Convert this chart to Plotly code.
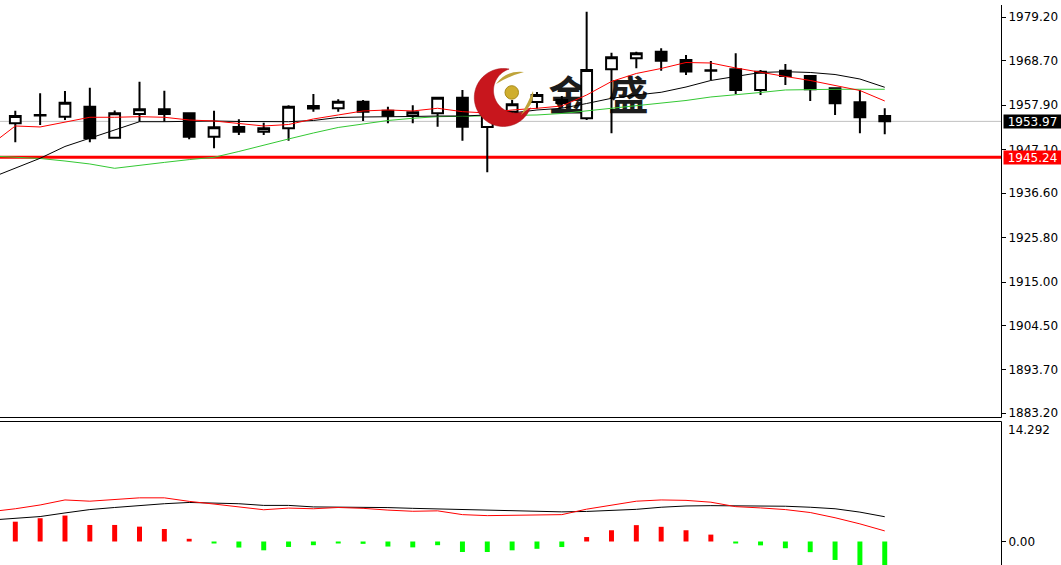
import numpy as np
import plotly.graph_objects as go

W, H = 1061, 565

# ---------------- data ----------------
idx = list(range(36))
opens = [1953.50, 1955.39, 1955.10, 1957.53, 1950.01, 1955.76, 1956.90, 1955.93, 1950.26, 1952.61,
         1951.47, 1952.29, 1957.70, 1957.14, 1958.74, 1956.56, 1955.35, 1955.93, 1959.71, 1952.61,
         1956.32, 1958.67, 1958.42, 1954.72, 1966.59, 1969.26, 1970.86, 1968.85, 1966.35, 1966.59,
         1961.58, 1966.25, 1964.97, 1961.99, 1958.59, 1955.27]
highs = [1956.56, 1960.78, 1961.33, 1962.13, 1956.61, 1963.59, 1961.41, 1956.07, 1956.56, 1954.47,
         1953.65, 1957.87, 1960.61, 1959.32, 1959.15, 1957.53, 1957.87, 1959.71, 1961.58, 1959.15,
         1959.15, 1961.09, 1960.12, 1980.56, 1970.62, 1970.86, 1971.69, 1970.06, 1968.61, 1970.47,
         1966.43, 1967.88, 1964.97, 1961.99, 1961.58, 1957.14]
lows = [1948.90, 1953.09, 1954.30, 1948.90, 1949.82, 1953.89, 1953.89, 1949.62, 1947.44, 1950.67,
        1950.67, 1949.29, 1956.32, 1956.32, 1954.06, 1953.50, 1953.50, 1952.68, 1949.29, 1941.62,
        1955.52, 1957.09, 1957.45, 1954.30, 1951.08, 1966.84, 1966.25, 1965.21, 1964.00, 1960.61,
        1960.36, 1962.79, 1958.91, 1955.52, 1951.08, 1950.84]
closes = [1955.27, 1955.52, 1958.50, 1949.87, 1955.93, 1956.90, 1955.76, 1950.26, 1952.53, 1951.47,
          1952.29, 1957.53, 1957.09, 1958.74, 1956.32, 1955.35, 1956.17, 1959.71, 1952.68, 1956.24,
          1958.11, 1960.36, 1959.15, 1966.43, 1969.50, 1970.47, 1968.68, 1966.06, 1966.23, 1961.58,
          1966.01, 1964.97, 1961.75, 1958.35, 1954.96, 1953.97]

# moving averages (start one bar before the first visible candle)
ma_idx = list(range(-1, 36))
ma_red = [1948.24, 1952.85, 1952.61, 1953.70, 1954.96, 1954.96, 1955.10, 1954.96, 1954.30, 1954.06,
          1953.46, 1952.85, 1953.21, 1954.55, 1955.52, 1956.49, 1956.73, 1956.49, 1957.14, 1956.32,
          1956.00, 1956.73, 1957.14, 1957.70, 1960.36, 1963.64, 1965.58, 1966.79, 1968.24, 1968.12,
          1966.91, 1965.82, 1964.85, 1963.88, 1962.67, 1961.45, 1958.91]
ma_black = [1940.24, 1942.67, 1945.02, 1947.88, 1949.87, 1951.88, 1953.89, 1953.89, 1954.06, 1954.06,
            1953.94, 1953.89, 1953.89, 1954.18, 1954.91, 1955.03, 1955.03, 1955.15, 1955.27, 1955.27,
            1955.52, 1956.00, 1956.73, 1957.14, 1958.30, 1959.56, 1960.36, 1961.02, 1962.30, 1963.88,
            1964.85, 1965.82, 1966.01, 1965.82, 1965.33, 1964.24, 1962.23]
ma_green = [1945.58, 1945.33, 1944.97, 1944.36, 1943.64, 1942.59, 1943.39, 1944.02, 1944.70, 1945.26,
            1946.67, 1948.24, 1949.70, 1951.15, 1952.49, 1953.33, 1954.18, 1954.72, 1955.10, 1955.20,
            1955.27, 1955.39, 1955.52, 1955.88, 1956.49, 1957.14, 1957.70, 1958.30, 1959.03, 1959.88,
            1960.36, 1960.97, 1961.58, 1961.70, 1961.75, 1961.75, 1961.75]

# MACD panel
macd_dif = [3.55, 3.9, 4.35, 4.95, 4.8, 5.0, 5.2, 5.2, 4.78, 4.46, 4.15, 3.78, 3.98, 3.9, 4.05, 3.95,
            3.74, 3.6, 3.65, 3.2, 3.08, 3.1, 3.12, 3.2, 3.85, 4.35, 4.8, 4.95, 4.9, 4.68, 4.15, 4.0,
            3.8, 3.45, 2.83, 2.1, 1.26]
macd_dea = [2.55, 2.77, 2.97, 3.4, 3.8, 4.05, 4.3, 4.5, 4.65, 4.58, 4.5, 4.3, 4.3, 4.12, 4.1, 4.09,
            4.04, 3.95, 3.87, 3.82, 3.7, 3.62, 3.55, 3.53, 3.58, 3.68, 3.83, 4.08, 4.23, 4.27, 4.25,
            4.23, 4.2, 4.08, 3.9, 3.5, 2.95]
macd_hist = [2.36, 2.77, 3.09, 1.97, 1.97, 1.77, 1.49, 0.32, -0.24, -0.72, -1.05, -0.65, -0.44, -0.12,
             -0.28, -0.6, -0.7, -0.44, -1.25, -1.25, -1.05, -0.87, -0.66, 0.53, 1.34, 1.95, 1.75, 1.34,
             0.82, -0.2, -0.46, -0.8, -1.27, -2.2, -3.3, -3.45]

price_ticks = [1979.20, 1968.70, 1957.90, 1947.10, 1936.60, 1925.80, 1915.00, 1904.50, 1893.70, 1883.20]
bid_price = 1953.97
level_price = 1945.24
macd_max = 14.292

# ---------------- layout geometry (pixels) ----------------
PLOT_R = 1001.0
MAIN_BOTTOM = 417.5
SUB_TOP = 421.5


def px(x):
    return x / W


def py(y):
    return 1 - y / H


fig = go.Figure()

# watermark text (below traces) via shape labels
shapes = []
for ch, cx in (("金", 568.5), ("盛", 628.5)):
    shapes.append(dict(type="rect", xref="paper", yref="paper",
                       x0=px(cx - 25), x1=px(cx + 25), y0=py(124), y1=py(74),
                       line=dict(width=0), fillcolor="rgba(0,0,0,0)", layer="below",
                       label=dict(text=ch, textposition="middle center",
                                  font=dict(family="Noto Sans CJK SC", size=40, color="#1c1c1c", weight="bold"))))

# horizontal lines
shapes.append(dict(type="line", xref="paper", yref="y", x0=0, x1=px(PLOT_R), y0=bid_price, y1=bid_price,
                   line=dict(color="#c0c0c0", width=1), layer="below"))
shapes.append(dict(type="line", xref="paper", yref="y", x0=0, x1=px(PLOT_R), y0=level_price, y1=level_price,
                   line=dict(color="#ff0000", width=3), layer="below"))

# MA lines
fig.add_trace(go.Scatter(x=ma_idx, y=ma_green, mode="lines", line=dict(color="#33c833", width=1),
                         xaxis="x", yaxis="y"))
fig.add_trace(go.Scatter(x=ma_idx, y=ma_black, mode="lines", line=dict(color="#000000", width=1),
                         xaxis="x", yaxis="y"))
fig.add_trace(go.Scatter(x=ma_idx, y=ma_red, mode="lines", line=dict(color="#ff0000", width=1),
                         xaxis="x", yaxis="y"))

fig.add_trace(go.Candlestick(
    x=idx, open=opens, high=highs, low=lows, close=closes,
    increasing=dict(line=dict(color="black", width=2), fillcolor="white"),
    decreasing=dict(line=dict(color="black", width=2), fillcolor="black"),
    whiskerwidth=0, xaxis="x", yaxis="y"))

# MACD
bar_colors = ["#ff0000" if v > 0 else "#00ff00" for v in macd_hist]
fig.add_trace(go.Bar(x=idx, y=macd_hist, marker=dict(color=bar_colors, line=dict(width=0)), width=0.2,
                     xaxis="x2", yaxis="y2"))
fig.add_trace(go.Scatter(x=ma_idx, y=macd_dea, mode="lines", line=dict(color="#000000", width=1),
                         xaxis="x2", yaxis="y2"))
fig.add_trace(go.Scatter(x=ma_idx, y=macd_dif, mode="lines", line=dict(color="#ff0000", width=1),
                         xaxis="x2", yaxis="y2"))

# frame lines
shapes.append(dict(type="line", xref="paper", yref="paper", x0=px(PLOT_R + 0.5), x1=px(PLOT_R + 0.5),
                   y0=py(5), y1=py(MAIN_BOTTOM), line=dict(color="black", width=1), layer="above"))
shapes.append(dict(type="line", xref="paper", yref="paper", x0=px(PLOT_R + 0.5), x1=px(PLOT_R + 0.5),
                   y0=py(SUB_TOP), y1=0, line=dict(color="black", width=1), layer="above"))
shapes.append(dict(type="line", xref="paper", yref="paper", x0=0, x1=px(PLOT_R + 0.5),
                   y0=py(MAIN_BOTTOM), y1=py(MAIN_BOTTOM), line=dict(color="black", width=1), layer="above"))
shapes.append(dict(type="line", xref="paper", yref="paper", x0=0, x1=px(PLOT_R + 0.5),
                   y0=py(SUB_TOP), y1=py(SUB_TOP), line=dict(color="black", width=1), layer="above"))

# logo: red crescent, gold ball and leaves (above traces)
c1x, c1y, r1 = 503.3, 97.5, 29.0
c2x, c2y, r2 = 516.0, 90.5, 22.5
d = np.hypot(c2x - c1x, c2y - c1y)
a = (r1 ** 2 - r2 ** 2 + d ** 2) / (2 * d)
h = np.sqrt(r1 ** 2 - a ** 2)
ux, uy = (c2x - c1x) / d, (c2y - c1y) / d
bx, by = c1x + a * ux, c1y + a * uy
t1 = (bx - h * uy, by + h * ux)
t2 = (bx + h * uy, by - h * ux)
tips = sorted([t1, t2], key=lambda p: p[1])  # top tip first
top_tip, right_tip = tips[0], tips[1]
o_start = np.arctan2(right_tip[1] - c1y, right_tip[0] - c1x)
o_end = np.arctan2(top_tip[1] - c1y, top_tip[0] - c1x) + 2 * np.pi
to = np.linspace(o_start, o_end, 80)
ox, oy = c1x + r1 * np.cos(to), c1y + r1 * np.sin(to)
i_start = np.arctan2(top_tip[1] - c2y, top_tip[0] - c2x) % (2 * np.pi)
i_end = np.arctan2(right_tip[1] - c2y, right_tip[0] - c2x) % (2 * np.pi)
ti = np.linspace(i_start, i_end, 80)
ix, iy = c2x + r2 * np.cos(ti), c2y + r2 * np.sin(ti)
pts = list(zip(ox, oy)) + list(zip(ix, iy))
path = "M " + " L ".join(f"{px(x):.5f},{py(y):.5f}" for x, y in pts) + " Z"
shapes.append(dict(type="path", xref="paper", yref="paper", path=path, fillcolor="#c8161d",
                   line=dict(color="#a50f14", width=0.5), layer="above"))


def qpath(p):
    out = []
    for cmd, coords in p:
        out.append(cmd + " " + " ".join(f"{px(x):.5f},{py(y):.5f}" for x, y in coords))
    return " ".join(out) + " Z"


shapes.append(dict(type="path", xref="paper", yref="paper",
                   path=qpath([("M", [(496, 84)]), ("Q", [(506, 70), (524, 72)]), ("Q", [(509, 76), (496, 84)])]),
                   fillcolor="#bfa43a", line=dict(width=0), layer="above"))
shapes.append(dict(type="path", xref="paper", yref="paper",
                   path=qpath([("M", [(533, 91)]), ("Q", [(535, 104), (521, 115)]), ("Q", [(528, 103), (533, 91)])]),
                   fillcolor="#bfa43a", line=dict(width=0), layer="above"))
shapes.append(dict(type="circle", xref="paper", yref="paper", x0=px(505), x1=px(518.5), y0=py(99.2), y1=py(85.7),
                   fillcolor="#cfae2e", line=dict(color="#a88a18", width=1), layer="above"))

annotations = [
    dict(x=px(PLOT_R + 2), y=bid_price, xref="paper", yref="y", xanchor="left", yanchor="middle",
         text=f"{bid_price:.2f}", showarrow=False, bgcolor="#000000", width=57, height=13, borderpad=0,
         font=dict(family="DejaVu Sans", size=12, color="white"), align="center"),
    dict(x=px(PLOT_R + 2), y=level_price, xref="paper", yref="y", xanchor="left", yanchor="middle",
         text=f"{level_price:.2f}", showarrow=False, bgcolor="#ff0000", width=57, height=13, borderpad=0,
         font=dict(family="DejaVu Sans", size=12, color="white"), align="center"),
    dict(x=px(1006), y=py(430), xref="paper", yref="paper", xanchor="left", yanchor="middle",
         text=f"{macd_max:.3f}", showarrow=False, font=dict(family="DejaVu Sans", size=12, color="black")),
]

fig.update_layout(
    width=W, height=H, margin=dict(l=0, r=0, t=0, b=0),
    paper_bgcolor="white", plot_bgcolor="white", showlegend=False,
    font=dict(family="DejaVu Sans", size=12, color="black"),
    xaxis=dict(domain=[0, px(PLOT_R)], range=[-0.616, 39.68], visible=False, rangeslider=dict(visible=False),
               anchor="y", automargin=False),
    xaxis2=dict(domain=[0, px(PLOT_R)], range=[-0.616, 39.68], visible=False, matches="x", anchor="y2",
                automargin=False),
    yaxis=dict(domain=[py(MAIN_BOTTOM), 1], range=[1882.18, 1983.39], side="right", anchor="x",
               tickvals=price_ticks, ticktext=[f"{v:.2f}" for v in price_ticks], ticks="outside", ticklen=4,
               tickcolor="black", showgrid=False, zeroline=False, showline=False, automargin=False,
               tickfont=dict(family="DejaVu Sans", size=12, color="black")),
    yaxis2=dict(domain=[0, py(SUB_TOP)], range=[-2.799, macd_max], side="right", anchor="x2",
                tickvals=[0], ticktext=["0.00"], ticks="outside", ticklen=4, tickcolor="black",
                showgrid=False, zeroline=False, showline=False, automargin=False,
                tickfont=dict(family="DejaVu Sans", size=12, color="black")),
    boxgap=0.38,
    shapes=shapes, annotations=annotations,
)

fig.write_html("out.html", config={"displayModeBar": False},
               post_script="document.body.style.margin='0';document.body.style.overflow='hidden';")
